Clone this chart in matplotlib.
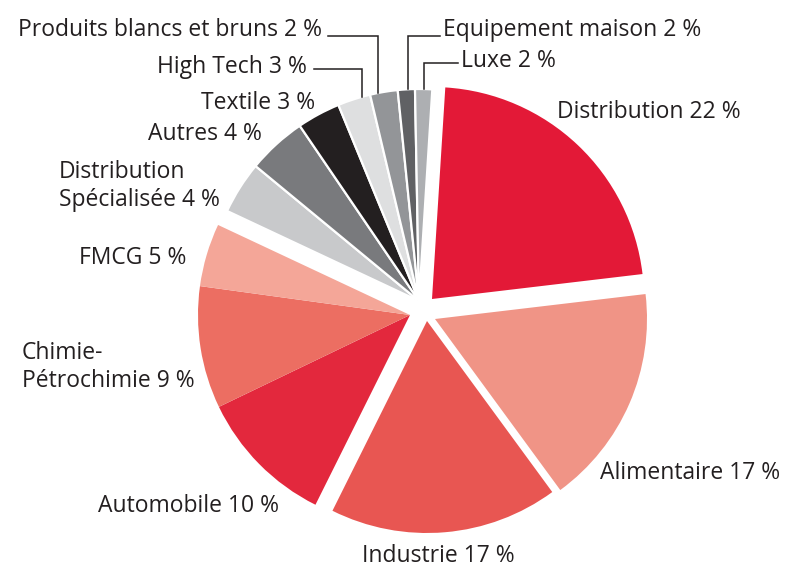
import numpy as np
import matplotlib
matplotlib.use("Agg")
import matplotlib.pyplot as plt

plt.rcParams['font.family'] = ['Open Sans', 'DejaVu Sans']

# sectors, clockwise from the top
labels = ["Distribution 22 %", "Alimentaire 17 %", "Industrie 17 %", "Automobile 10 %",
          "Chimie-\nPétrochimie 9 %", "FMCG 5 %", "Distribution\nSpécialisée 4 %",
          "Autres 4 %", "Textile 3 %", "High Tech 3 %", "Produits blancs et bruns 2 %",
          "Equipement maison 2 %", "Luxe 2 %"]
# wedge sizes as drawn in the picture (the small grey ones are drawn thinner than their label)
shares = [22.1, 16.8, 17.4, 10.5, 9.3, 4.8, 4.0, 4.5, 3.3, 2.5, 2.1, 1.3, 1.3]
colors = ["#E31937", "#F09486", "#E85652", "#E3283D", "#EC6E62", "#F4A698",
          "#C8C9CB", "#797A7D", "#231F20", "#DEDFE0", "#939598", "#606164", "#ADAFB2"]

W, H = 806, 570
def Y(y):
    return H - y

txt = "#231F20"
R = 212
C = (424, 259)
# explode offsets (px) per wedge, groups share an apex
offs = [(8, 12), (11, -8), (3, -10), (-14, -4), (-14, -4), (-14, -4)] + [(-5, 10)] * 7
grey = range(6, 13)

fig = plt.figure(figsize=(W / 100, H / 100), dpi=100)
ax = fig.add_axes([0, 0, 1, 1])
wedges, _ = ax.pie(shares, colors=colors, startangle=86.4, counterclock=False,
                   radius=R, center=C, wedgeprops=dict(linewidth=0))
for i, w in enumerate(wedges):
    w.set_center((C[0] + offs[i][0], C[1] + offs[i][1]))
    if i in grey:
        w.set_edgecolor("white")
        w.set_linewidth(1.6)

ax.set_xlim(0, W)
ax.set_ylim(0, H)
ax.set_aspect("equal")
ax.axis("off")

# label layout: (x, baseline y of last line in px from top, ha)
pos = [(557, 118, "left"), (600, 479, "left"), (362, 562, "left"), (98, 512, "left"),
       (22, 387, "left"), (79, 264, "left"), (59, 206, "left"),
       (148, 140, "left"), (201, 109, "left"), (307, 73, "right"), (322, 36, "right"),
       (443, 36, "left"), (461, 67, "left")]
for lab, (x, y, ha) in zip(labels, pos):
    ax.text(x, Y(y), lab, ha=ha, va="baseline", fontsize=16.5, color=txt, linespacing=1.22)

# leader lines for the thin grey wedges
gx, gy = C[0] + offs[12][0], C[1] + offs[12][1]
def arc_y(x):
    return gy + np.sqrt(R ** 2 - (x - gx) ** 2)

leaders = [(314, 69, 362), (328, 36, 378), (440, 36, 407.7), (458, 63, 423.5)]
for x0, y0, x1 in leaders:
    ax.plot([x0, x1, x1], [Y(y0), Y(y0), arc_y(x1)], color=txt, lw=1.1,
            solid_joinstyle="miter")

fig.savefig("out.png", dpi=100)
